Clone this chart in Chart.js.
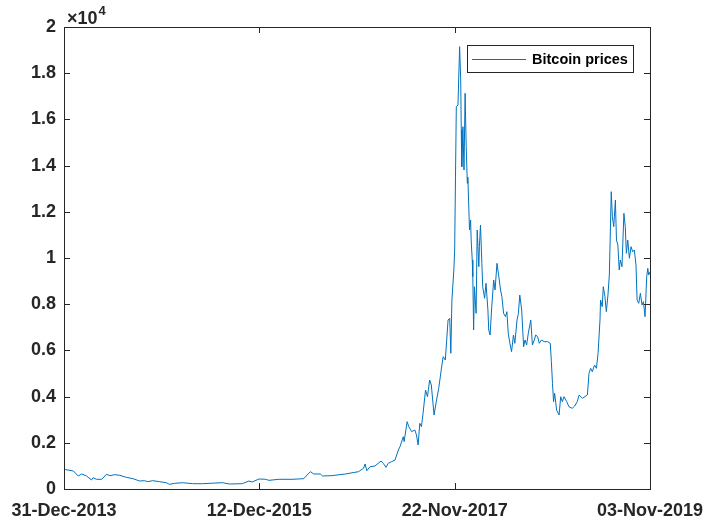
<!DOCTYPE html>
<html>
<head>
<meta charset="utf-8">
<title>Bitcoin prices</title>
<script src="https://cdn.jsdelivr.net/npm/chart.js@4/dist/chart.umd.min.js"></script>
<style>
  html, body { margin: 0; padding: 0; background: #fff; }
  #wrap { position: relative; width: 706px; height: 526px; }
</style>
</head>
<body>
<div id="wrap"><canvas id="btcChart"></canvas></div>
<script>
// ── DADOS ─────────────────────────────────────────────────────
// dias contados a partir de 31-Dec-2013 e preço de fechamento (USD)
const priceDays = [
  0, 34, 52, 64, 82, 100, 106, 118, 137, 155, 167, 185, 203, 227, 251, 275,
  293, 305, 323, 348, 372, 384, 402, 432, 468, 504, 553, 577, 601, 649, 673,
  685, 710, 734, 746, 782, 830, 873, 885, 897, 909, 933, 941, 975, 1024,
  1072, 1090, 1096, 1102, 1114, 1132, 1154, 1162, 1172, 1180, 1192, 1205,
  1217, 1223, 1235, 1238, 1249, 1255, 1265, 1277, 1283, 1289, 1295, 1301,
  1307, 1316, 1323, 1331, 1337, 1347, 1355, 1364, 1373, 1380, 1388, 1398,
  1404, 1408, 1412, 1419, 1422, 1425, 1428, 1434, 1440, 1444, 1446, 1448,
  1452, 1456, 1460, 1464, 1468, 1470, 1476, 1480, 1482, 1486, 1488, 1491,
  1494, 1500, 1504, 1510, 1512, 1516, 1521, 1524, 1531, 1536, 1543, 1546,
  1551, 1557, 1564, 1569, 1576, 1582, 1589, 1594, 1600, 1607, 1612, 1617,
  1623, 1629, 1636, 1641, 1649, 1654, 1659, 1666, 1673, 1678, 1684, 1690,
  1699, 1705, 1712, 1717, 1724, 1730, 1738, 1748, 1760, 1770, 1774, 1778,
  1782, 1786, 1793, 1802, 1808, 1814, 1820, 1830, 1838, 1850, 1859, 1868,
  1875, 1887, 1905, 1911, 1917, 1923, 1931, 1938, 1944, 1951, 1953, 1959,
  1963, 1969, 1974, 1980, 1985, 1992, 1996, 2001, 2007, 2011, 2016, 2021,
  2025, 2031, 2038, 2043, 2047, 2052, 2058, 2064, 2070, 2076, 2082, 2086,
  2092, 2098, 2104, 2109, 2115, 2121, 2125, 2128, 2133
];
const priceUsd = [
  850, 780, 563, 650, 563, 390, 490, 420, 420, 636, 577, 620, 592, 505, 447, 346,
  360, 317, 360, 317, 273, 202, 245, 273, 230, 230, 260, 273, 216, 230, 346,
  303, 433, 420, 375, 420, 420, 447, 606, 750, 650, 650, 563, 577, 650,
  750, 895, 1082, 794, 967, 995, 1212, 1111, 938, 1111, 1182, 1255,
  1688, 1832, 2265, 2049, 2914, 2698, 2482, 2554, 2338, 1905, 2842, 2698,
  3277, 4286, 3996, 4719, 4502, 3203, 3779, 4359, 5152, 5727, 5584, 7316,
  7390, 5874, 8182, 9480, 10346, 13500, 16550, 16623, 19148, 17706, 15541, 13952,
  15684, 13810, 17130, 14818, 13234, 13500, 11212, 11645, 10779, 9913, 9191, 6883,
  8758, 7606, 11212, 9624, 10490, 11429, 9770, 8758, 8256, 8905, 7749, 6883,
  6667, 7892, 9048, 8615, 9770, 9264, 8615, 8324, 7606, 7459, 7676, 6740,
  6307, 5944, 6667, 6307, 7316, 7606, 8398, 7749, 6160, 6450, 6234, 6740,
  7316, 6234, 6450, 6667, 6595, 6307, 6450, 6379, 6379, 6307, 5511, 4575,
  3780, 4142, 3420, 3203, 3996, 3779, 3996, 3779, 3563, 3493, 3593, 3779,
  4069, 3926, 4069, 5009, 5225, 5078, 5368, 5225, 5874, 7316, 8182, 7892,
  8758, 8324, 7676, 8398, 9264, 12870, 11788, 11355, 12511, 10779, 10563, 9480,
  9913, 9624, 11933, 11355, 10203, 10779, 9986, 10490, 10273, 10346, 9697, 8182,
  8039, 8472, 7965, 8108, 7459, 9191, 9552, 9264, 9400
];

const xTickDays   = [0, 711, 1422, 2133];
const xTickLabels = ['31-Dec-2013', '12-Dec-2015', '22-Nov-2017', '03-Nov-2019'];
const yTickLabels = ['0', '0.2', '0.4', '0.6', '0.8', '1', '1.2', '1.4', '1.6', '1.8', '2'];
const seriesLabel = 'Bitcoin prices';

// ── ESTILO ────────────────────────────────────────────────────
const LINE_COLOR = '#0072BD';
const AXIS_COLOR = '#262626';
const FONT_FAMILY = '"Liberation Sans", Arial, Helvetica, sans-serif';
const TICK_LEN = 6;

// moldura completa + ticks para dentro, nos quatro lados
const axesBox = {
  id: 'axesBox',
  afterDatasetsDraw(chart) {
    const { ctx, chartArea: a, scales: { x, y } } = chart;
    ctx.save();
    ctx.strokeStyle = AXIS_COLOR;
    ctx.lineWidth = 1;
    ctx.beginPath();
    xTickDays.forEach(d => {
      const px = Math.round(x.getPixelForValue(d)) + 0.5;
      ctx.moveTo(px, a.bottom); ctx.lineTo(px, a.bottom - TICK_LEN);
      ctx.moveTo(px, a.top);    ctx.lineTo(px, a.top + TICK_LEN);
    });
    y.ticks.forEach(t => {
      const py = Math.round(y.getPixelForValue(t.value)) + 0.5;
      ctx.moveTo(a.left, py);  ctx.lineTo(a.left + TICK_LEN, py);
      ctx.moveTo(a.right, py); ctx.lineTo(a.right - TICK_LEN, py);
    });
    ctx.stroke();
    ctx.strokeRect(Math.round(a.left) + 0.5, Math.round(a.top) + 0.5,
                   Math.round(a.right - a.left), Math.round(a.bottom - a.top));

    // multiplicador do eixo y (×10^4)
    ctx.fillStyle = AXIS_COLOR;
    ctx.textBaseline = 'alphabetic';
    ctx.font = 'bold 18px ' + FONT_FAMILY;
    ctx.fillText('\u00d710', a.left + 3, a.top - 3);
    const w = ctx.measureText('\u00d710').width;
    ctx.font = 'bold 13px ' + FONT_FAMILY;
    ctx.fillText('4', a.left + 4 + w, a.top - 12);
    ctx.restore();
  },
  afterDraw(chart) {
    // legenda no canto superior direito, dentro dos eixos
    const { ctx, chartArea: a } = chart;
    const bw = 166, bh = 27;
    const bx = Math.round(a.right) - 17 - bw, by = Math.round(a.top) + 18;
    ctx.save();
    ctx.fillStyle = '#fff';
    ctx.fillRect(bx, by, bw, bh);
    ctx.strokeStyle = AXIS_COLOR;
    ctx.lineWidth = 1;
    ctx.strokeRect(bx + 0.5, by + 0.5, bw, bh);
    ctx.strokeStyle = LINE_COLOR;
    ctx.beginPath();
    ctx.moveTo(bx + 5, by + 14.5);
    ctx.lineTo(bx + 59, by + 14.5);
    ctx.stroke();
    ctx.fillStyle = '#000';
    ctx.font = 'bold 14.5px ' + FONT_FAMILY;
    ctx.textBaseline = 'middle';
    ctx.fillText(seriesLabel, bx + 65, by + 14.5);
    ctx.restore();
  }
};

const points = priceDays.map((d, i) => ({ x: d, y: priceUsd[i] }));
const tickFont = { family: FONT_FAMILY, size: 18, weight: 'bold' };

new Chart(document.getElementById('btcChart'), {
  type: 'line',
  data: {
    datasets: [{
      label: seriesLabel,
      data: points,
      borderColor: LINE_COLOR,
      borderWidth: 1,
      pointRadius: 0,
      tension: 0,
      fill: false
    }]
  },
  options: {
    responsive: true,
    maintainAspectRatio: false,
    animation: false,
    layout: { padding: { top: 27, right: 56, bottom: 0, left: 0 } },
    plugins: { legend: { display: false }, tooltip: { enabled: false } },
    scales: {
      x: {
        type: 'linear',
        min: xTickDays[0],
        max: xTickDays[xTickDays.length - 1],
        afterBuildTicks: s => { s.ticks = xTickDays.map(v => ({ value: v })); },
        afterFit: s => {
          s.height = 37;
          // rótulos das pontas podem sair da área sem empurrar o gráfico
          s.paddingLeft = 0;
          s.paddingRight = 0;
        },
        grid: { display: false, drawTicks: false },
        border: { display: false },
        ticks: {
          autoSkip: false,
          maxRotation: 0,
          padding: 11,
          color: AXIS_COLOR,
          font: tickFont,
          callback: (v, i) => xTickLabels[i]
        }
      },
      y: {
        min: 0,
        max: 20000,
        afterBuildTicks: s => { s.ticks = yTickLabels.map((_, i) => ({ value: i * 2000 })); },
        afterFit: s => { s.width = 64; },
        grid: { display: false, drawTicks: false },
        border: { display: false },
        ticks: {
          padding: 8,
          color: AXIS_COLOR,
          font: tickFont,
          callback: (v, i) => yTickLabels[i]
        }
      }
    }
  },
  plugins: [axesBox]
});
</script>
</body>
</html>
